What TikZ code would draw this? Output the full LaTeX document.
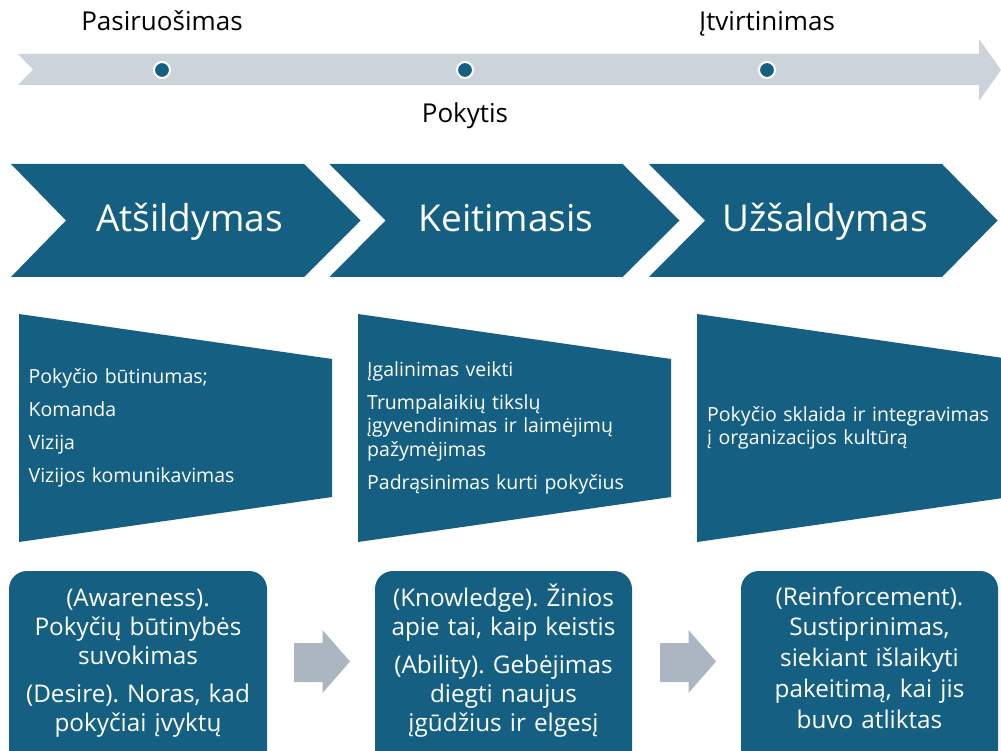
\documentclass[tikz,border=0pt]{standalone}
\usepackage{fontspec}
\setmainfont{Open Sans}
\definecolor{mainblue}{HTML}{156082}
\definecolor{bandgray}{HTML}{CDD3DA}
\definecolor{arrowgray}{HTML}{ABB6C2}
\frenchspacing
\begin{document}
\begin{tikzpicture}[x=1pt,y=-1pt,
  blueshape/.style={fill=mainblue,draw=none},
  lbl/.style={font=\fontsize{26}{31}\selectfont,text=black,inner sep=0pt,anchor=base},
  chevtext/.style={font=\fontsize{37}{44}\selectfont,text=white,inner sep=0pt,anchor=base},
  trtext/.style={font=\fontsize{19.5}{23.5}\selectfont,text=white,inner sep=0pt,anchor=base west,align=left,text width=300pt},
  boxtext/.style={font=\fontsize{24.3}{29}\selectfont,text=white,inner sep=0pt,anchor=base,align=center,text width=250pt},
  dot/.style={fill=mainblue,draw=white,line width=2pt}
]
\useasboundingbox (0,0) rectangle (1001,751);
\clip (0,0) rectangle (1001,751);
% timeline band
\fill[bandgray] (18,54) -- (979,54) -- (979,39) -- (1001,70) -- (979,101) -- (979,85) -- (18,85) -- (33,69.5) -- cycle;
\path[dot] (162,70) circle[radius=8pt];
\path[dot] (465,70) circle[radius=8pt];
\path[dot] (767,70) circle[radius=8pt];
\node[lbl] (l1) at (162,30.5) {Pasiruošimas};
\node[lbl] (l2) at (465,123) {Pokytis};
\node[lbl] (l3) at (767,30.5) {Įtvirtinimas};
% chevrons
\fill[blueshape] (11,164) -- (304,164) -- (360.5,220.5) -- (304,277) -- (11,277) -- (66,220.5) -- cycle;
\fill[blueshape] (329.5,164) -- (622.5,164) -- (679.5,220.5) -- (622.5,277) -- (329.5,277) -- (385.5,220.5) -- cycle;
\fill[blueshape] (649,164) -- (942,164) -- (997.5,220.5) -- (942,277) -- (649,277) -- (705,220.5) -- cycle;
\node[chevtext] (c1) at (189.5,232) {Atšildymas};
\node[chevtext] (c2) at (506,232) {Keitimasis};
\node[chevtext] (c3) at (825,232) {Užšaldymas};
% trapezoids
\fill[blueshape] (19,314) -- (332,359) -- (332,497) -- (19,542) -- cycle;
\fill[blueshape] (358,314) -- (671,359) -- (671,497) -- (358,542) -- cycle;
\fill[blueshape] (697,314) -- (1010,359) -- (1010,497) -- (697,542) -- cycle;
\node[trtext] (t1) at (28.5,383) {Pokyčio būtinumas;\\[9.8pt]Komanda\\[9.8pt]Vizija\\[9.8pt]Vizijos komunikavimas};
\node[trtext] (t2) at (367,376) {Įgalinimas veikti\\[9.5pt]Trumpalaikių tikslų\\įgyvendinimas ir laimėjimų\\pažymėjimas\\[9.5pt]Padrąsinimas kurti pokyčius};
\node[trtext] (t3) at (707,421) {Pokyčio sklaida ir integravimas\\į organizacijos kultūrą};
% rounded boxes
\fill[blueshape,rounded corners=18pt] (9,571) rectangle (267,800);
\fill[blueshape,rounded corners=18pt] (375,571) rectangle (632,800);
\fill[blueshape,rounded corners=18pt] (741,571) rectangle (998,800);
\node[boxtext] (b1) at (138,606) {(Awareness).\\Pokyčių būtinybės\\suvokimas\\[9pt](Desire). Noras, kad\\pokyčiai įvyktų};
\node[boxtext] (b2) at (503.5,606) {(Knowledge). Žinios\\apie tai, kaip keistis\\[9pt](Ability). Gebėjimas\\diegti naujus\\įgūdžius ir elgesį};
\node[boxtext,font=\fontsize{24.3}{30.8}\selectfont] (b3) at (869.5,605) {(Reinforcement).\\Sustiprinimas,\\siekiant išlaikyti\\pakeitimą, kai jis\\buvo atliktas};
% block arrows
\fill[arrowgray] (294,643) -- (322.5,643) -- (322.5,630) -- (350,661.5) -- (322.5,693) -- (322.5,682) -- (294,682) -- cycle;
\fill[arrowgray] (660,643) -- (688.5,643) -- (688.5,630) -- (716,661.5) -- (688.5,693) -- (688.5,682) -- (660,682) -- cycle;
\end{tikzpicture}
\end{document}
